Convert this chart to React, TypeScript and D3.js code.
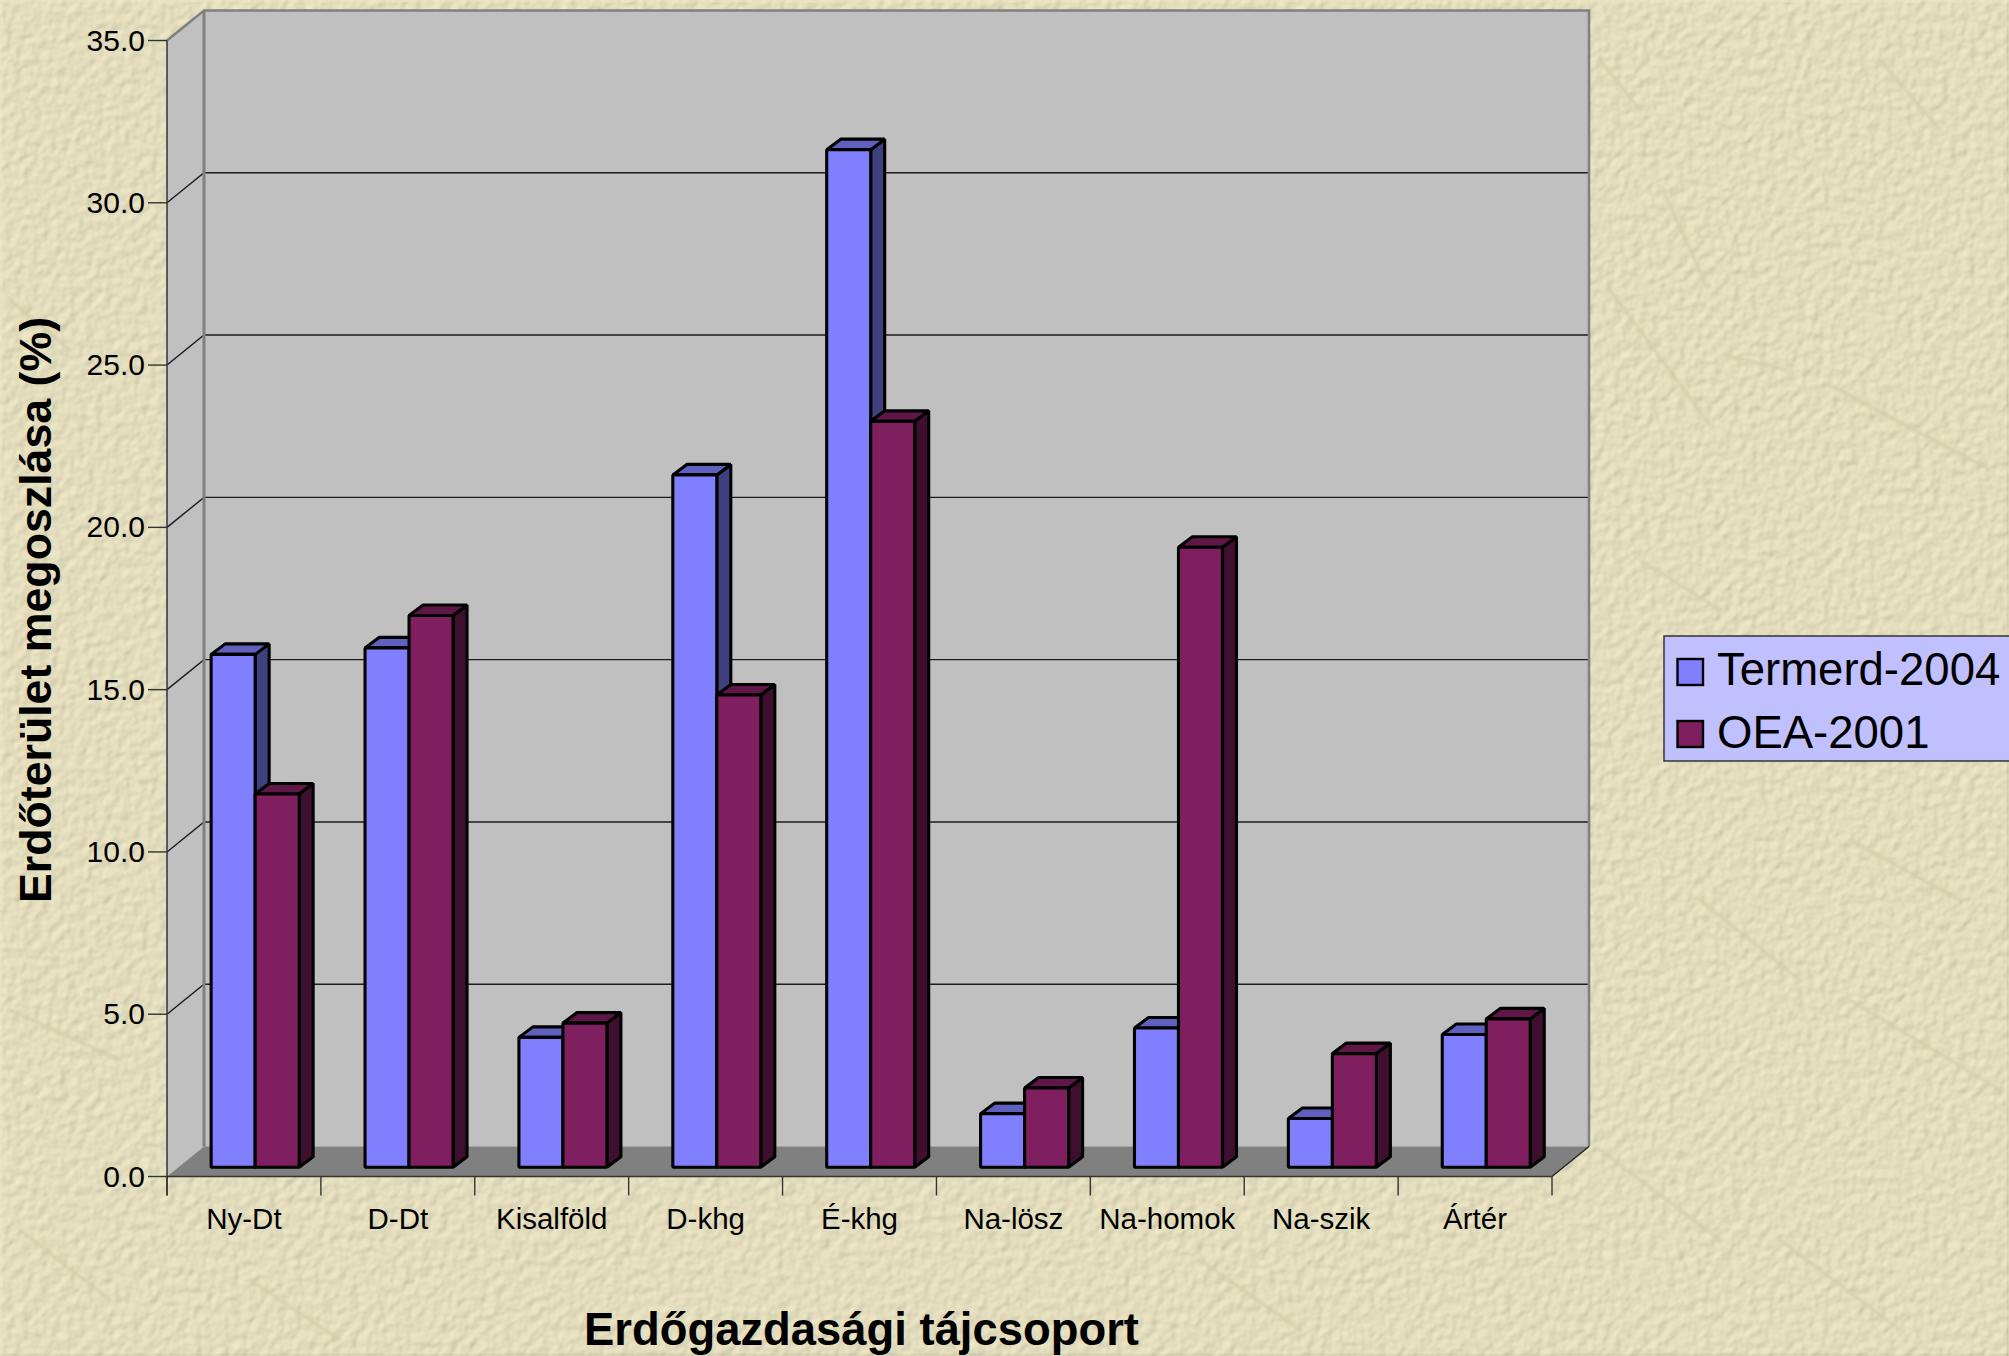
import React from "react";
import * as d3 from "d3";

const categories = ["Ny-Dt", "D-Dt", "Kisalföld", "D-khg", "É-khg", "Na-lösz", "Na-homok", "Na-szik", "Ártér"];
const termerd2004 = [15.8, 16.0, 4.0, 21.33, 31.35, 1.65, 4.29, 1.5, 4.09];
const oea2001 = [11.5, 17.0, 4.44, 14.55, 22.98, 2.44, 19.1, 3.5, 4.57];
const yTicks = [0, 5, 10, 15, 20, 25, 30, 35];
const seriesNames = ["Termerd-2004", "OEA-2001"];
const seriesColors = [
  { front: "#8080FF", top: "#6060BF", side: "#40407F" },
  { front: "#7F1F5F", top: "#5F1747", side: "#3F0F2F" },
];
// faint scratches in the paper texture
const scratches: [number, number, number, number][] = [
  [1663, 190, 1707, 287], [1610, 290, 1710, 425], [1725, 355, 1785, 370], [1830, 385, 1990, 470],
  [1600, 60, 1640, 110], [1880, 60, 1940, 130], [1700, 900, 1800, 980], [1850, 1000, 2000, 1090],
  [1600, 1150, 1720, 1240], [1780, 1240, 1900, 1330], [20, 1230, 110, 1300], [250, 1280, 340, 1340],
  [1200, 1260, 1300, 1330], [1640, 560, 1720, 610], [1850, 840, 1960, 900], [10, 300, 70, 350], [10, 1010, 120, 1060],
];

const FRONT_L = 167, FRONT_R = 1552, Y0 = 1176.5, Y35 = 40.5;
const DX = 37, DY = 30;
const BAR_DX = 14, BAR_DY = 10.5, BASE_DX = 11.2, BASE_DY = 9.3;
const BAR_W = 44;
const FONT = "'Liberation Sans', Arial, sans-serif";

export default function App() {
  const y = d3.scaleLinear().domain([0, 35]).range([Y0, Y35]);
  const x = d3.scaleBand<string>().domain(categories).range([FRONT_L, FRONT_R]);
  const cw = x.bandwidth();
  const series = [termerd2004, oea2001];

  const bar = (cat: string, i: number, s: number) => {
    const v = series[s][i];
    const cx = x(cat)! + cw / 2 + BASE_DX;
    const x0 = cx - BAR_W + s * BAR_W;
    const x1 = x0 + BAR_W;
    const yb = y(0) - BASE_DY;
    const yt = yb - (y(0) - y(v));
    const c = seriesColors[s];
    const pts = (a: number[][]) => a.map((p) => p.join(",")).join(" ");
    return (
      <g key={cat + s} stroke="#000" strokeWidth={3.1} strokeLinejoin="bevel">
        <polygon fill={c.side} points={pts([[x1, yt], [x1 + BAR_DX, yt - BAR_DY], [x1 + BAR_DX, yb - BAR_DY], [x1, yb]])} />
        <polygon fill={c.top} points={pts([[x0, yt], [x0 + BAR_DX, yt - BAR_DY], [x1 + BAR_DX, yt - BAR_DY], [x1, yt]])} />
        <rect x={x0} y={yt} width={BAR_W} height={yb - yt} fill={c.front} />
      </g>
    );
  };

  const tickXs = d3.range(categories.length + 1).map((i) => FRONT_L + i * cw);

  return (
    <svg width={2009} height={1356} viewBox="0 0 2009 1356" style={{ position: "fixed", left: 0, top: 0, display: "block" }} fontFamily={FONT}>
      <defs>
        <filter id="paper" x="0" y="0" width="100%" height="100%" colorInterpolationFilters="sRGB">
          <feTurbulence type="fractalNoise" baseFrequency="0.11" numOctaves={2} seed={7} result="n" />
          <feGaussianBlur in="n" stdDeviation={1.1} result="b" />
          <feDiffuseLighting in="b" surfaceScale={1.0} diffuseConstant={1.03} lightingColor="#EAE4C3">
            <feDistantLight azimuth={225} elevation={70} />
          </feDiffuseLighting>
        </filter>
        <filter id="soft"><feGaussianBlur stdDeviation={1.5} /></filter>
      </defs>
      <rect width={2009} height={1356} fill="#E6E0BE" />
      <rect width={2009} height={1356} filter="url(#paper)" />
      <g filter="url(#soft)" fill="none" strokeLinecap="round">
        {scratches.map((s, i) => (
          <line key={i} x1={s[0]} y1={s[1]} x2={s[2]} y2={s[3]} stroke="#D2CCA8" strokeWidth={2.6} />
        ))}
      </g>

      {/* walls and floor */}
      <polygon fill="#C0C0C0" points={`${FRONT_L + DX},${Y35 - DY} ${FRONT_R + DX},${Y35 - DY} ${FRONT_R + DX},${Y0 - DY} ${FRONT_L + DX},${Y0 - DY}`} />
      <polygon fill="#C0C0C0" points={`${FRONT_L},${Y35} ${FRONT_L + DX},${Y35 - DY} ${FRONT_L + DX},${Y0 - DY} ${FRONT_L},${Y0}`} />
      <polygon fill="#808080" points={`${FRONT_L},${Y0} ${FRONT_L + DX},${Y0 - DY} ${FRONT_R + DX},${Y0 - DY} ${FRONT_R},${Y0}`} />

      {/* gridlines */}
      {yTicks.filter((t) => t > 0 && t < 35).map((t) => (
        <g key={t} stroke="#1c1c1c" strokeWidth={1.4} fill="none">
          <polyline points={`${FRONT_L},${y(t)} ${FRONT_L + DX},${y(t) - DY} ${FRONT_R + DX},${y(t) - DY}`} />
        </g>
      ))}

      {/* wall borders */}
      <polyline fill="none" stroke="#808080" strokeWidth={2.6} points={`${FRONT_L},${Y35} ${FRONT_L + DX},${Y35 - DY} ${FRONT_R + DX},${Y35 - DY} ${FRONT_R + DX},${Y0 - DY}`} />
      <line x1={FRONT_L + DX} x2={FRONT_L + DX} y1={Y35 - DY} y2={Y0 - DY} stroke="#808080" strokeWidth={3} />
      <line x1={FRONT_R} y1={Y0} x2={FRONT_R + DX} y2={Y0 - DY} stroke="#222" strokeWidth={1.4} />

      {/* bars */}
      {categories.map((c, i) => (
        <g key={c}>
          {bar(c, i, 0)}
          {bar(c, i, 1)}
        </g>
      ))}

      {/* axes */}
      <line x1={FRONT_L} x2={FRONT_L} y1={Y35} y2={Y0 + 19} stroke="#333" strokeWidth={1.5} />
      <line x1={FRONT_L} x2={FRONT_R} y1={Y0} y2={Y0} stroke="#333" strokeWidth={1.5} />
      {yTicks.map((t) => (
        <g key={t}>
          <line x1={148} x2={FRONT_L} y1={y(t)} y2={y(t)} stroke="#333" strokeWidth={1.4} />
          <text x={145} y={y(t) + 10} textAnchor="end" fontSize={30} fill="#000">{t.toFixed(1)}</text>
        </g>
      ))}
      {tickXs.map((tx) => (
        <line key={tx} x1={tx} x2={tx} y1={Y0} y2={Y0 + 19} stroke="#333" strokeWidth={1.4} />
      ))}
      {categories.map((c) => (
        <text key={c} x={x(c)! + cw / 2} y={1229} textAnchor="middle" fontSize={29.5} fill="#000">{c}</text>
      ))}

      {/* axis titles */}
      <text x={861.5} y={1345} textAnchor="middle" fontSize={45.4} fontWeight="bold" fill="#000">Erdőgazdasági tájcsoport</text>
      <text transform="translate(51,610) rotate(-90)" textAnchor="middle" fontSize={44.7} fontWeight="bold" fill="#000">Erdőterület megoszlása (%)</text>

      {/* legend */}
      <rect x={1664} y={636} width={350} height={125} fill="#C0C0FF" stroke="#333" strokeWidth={1.5} />
      {seriesNames.map((n, i) => (
        <g key={n}>
          <rect x={1677.5} y={659 + i * 62} width={25.5} height={26} fill={seriesColors[i].front} stroke="#000" strokeWidth={2.4} />
          <text x={1717} y={685 + i * 62.5} fontSize={45.5} fill="#000">{n}</text>
        </g>
      ))}
    </svg>
  );
}
